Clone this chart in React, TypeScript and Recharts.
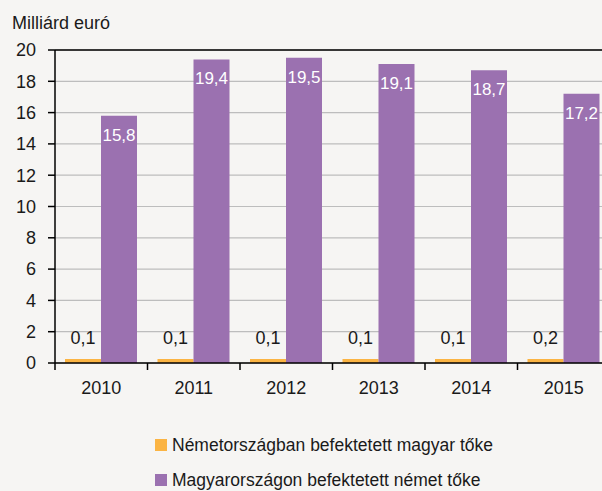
import React from 'react'
import {
  BarChart, Bar, XAxis, YAxis, CartesianGrid, Legend, LabelList, ReferenceLine
} from 'recharts'

// Data (billion euro)
const years = ['2010', '2011', '2012', '2013', '2014', '2015']
const huInDe = [0.1, 0.1, 0.1, 0.1, 0.1, 0.2] // Németországban befektetett magyar tőke
const deInHu = [15.8, 19.4, 19.5, 19.1, 18.7, 17.2] // Magyarországon befektetett német tőke
const yTicks = [0, 2, 4, 6, 8, 10, 12, 14, 16, 18, 20]

const seriesNames = {
  huInDe: 'Németországban befektetett magyar tőke',
  deInHu: 'Magyarországon befektetett német tőke',
}

const ORANGE = '#fbb443'
const PURPLE = '#9b71b0'
const BG = '#f6f5f3'
const TEXT = '#1a1a1a'
const FONT = '"Liberation Sans", Arial, sans-serif'
const FS = 18
const BAR_LABEL_FS = 17
const LEGEND_FS = 17.5

const CHART_W = 640
const CHART_H = 491
const MARGIN = { top: 50, right: 30, left: 0, bottom: 0 }
const Y_AXIS_W = 55
const TICK_LEN = 7
const X_TICK_MARGIN = 11
const LEGEND_H = 88

const chartData = years.map((year, i) => ({
  year,
  huInDe: huInDe[i],
  deInHu: deInHu[i],
}))

const fmt = (v: any) => String(v).replace('.', ',')

// x ticks sit on the category boundaries, labels in the middle
const YearTick = (props: any) => {
  const { x, y, payload, index, visibleTicksCount } = props
  const fallbackHalf = (CHART_W - MARGIN.left - MARGIN.right - Y_AXIS_W) / years.length / 2
  const half = payload?.offset || fallbackHalf
  const axisY = y - TICK_LEN - X_TICK_MARGIN
  return (
    <g>
      <line x1={x - half} x2={x - half} y1={axisY} y2={axisY + TICK_LEN} stroke="#000" strokeWidth={1.5} />
      {index === visibleTicksCount - 1 && (
        <line x1={x + half} x2={x + half} y1={axisY} y2={axisY + TICK_LEN} stroke="#000" strokeWidth={1.5} />
      )}
      <text x={x} y={y} dy="0.71em" textAnchor="middle" fill={TEXT} fontSize={FS}>
        {payload.value}
      </text>
    </g>
  )
}

const AxisTitle = () => (
  <text x={12} y={29} fontSize={FS} fill={TEXT}>Milliárd euró</text>
)

const LegendBox = () => {
  const rows = [
    { name: seriesNames.huInDe, color: ORANGE, top: 32 },
    { name: seriesNames.deInHu, color: PURPLE, top: 67 },
  ]
  return (
    <div style={{ position: 'relative', height: LEGEND_H }}>
      {rows.map(r => (
        <div key={r.name} style={{
          position: 'absolute', left: 155, top: r.top, height: 20, lineHeight: '20px',
          display: 'flex', alignItems: 'center', whiteSpace: 'nowrap',
          fontSize: LEGEND_FS, color: TEXT, fontFamily: FONT,
        }}>
          <span style={{ display: 'inline-block', width: 12, height: 12, background: r.color, marginRight: 5 }} />
          {r.name}
        </div>
      ))}
    </div>
  )
}

export default function App() {
  return (
    <div style={{
      position: 'absolute', top: 0, left: 0, width: 602, height: 491,
      overflow: 'hidden', background: BG, fontFamily: FONT,
    }}>
      <BarChart
        width={CHART_W}
        height={CHART_H}
        data={chartData}
        margin={MARGIN}
        barGap={0}
        barCategoryGap={10}
      >
        <CartesianGrid vertical={false} stroke="#bdbdbd" strokeWidth={1.2} />
        <XAxis
          dataKey="year"
          height={40}
          tickLine={false}
          tickSize={TICK_LEN}
          tickMargin={X_TICK_MARGIN}
          tick={<YearTick />}
          axisLine={{ stroke: '#000', strokeWidth: 1.5 }}
          interval={0}
        />
        <YAxis
          width={Y_AXIS_W}
          domain={[0, 20]}
          ticks={yTicks}
          interval={0}
          tickSize={TICK_LEN}
          tickMargin={12}
          tick={{ fill: TEXT, fontSize: FS }}
          tickLine={{ stroke: '#000', strokeWidth: 1.5 }}
          axisLine={{ stroke: '#000', strokeWidth: 1.5 }}
          label={<AxisTitle />}
        />
        <ReferenceLine y={20} stroke="#000" strokeWidth={1.5} />
        <Legend verticalAlign="bottom" height={LEGEND_H} content={<LegendBox />} />
        <Bar dataKey="huInDe" name={seriesNames.huInDe} fill={ORANGE} minPointSize={4} isAnimationActive={false}>
          <LabelList dataKey="huInDe" position="top" offset={15} formatter={fmt} fill={TEXT} fontSize={FS} />
        </Bar>
        <Bar dataKey="deInHu" name={seriesNames.deInHu} fill={PURPLE} isAnimationActive={false}>
          <LabelList dataKey="deInHu" position="insideTop" offset={13} formatter={fmt} fill="#fff" fontSize={BAR_LABEL_FS} />
        </Bar>
      </BarChart>
    </div>
  )
}
